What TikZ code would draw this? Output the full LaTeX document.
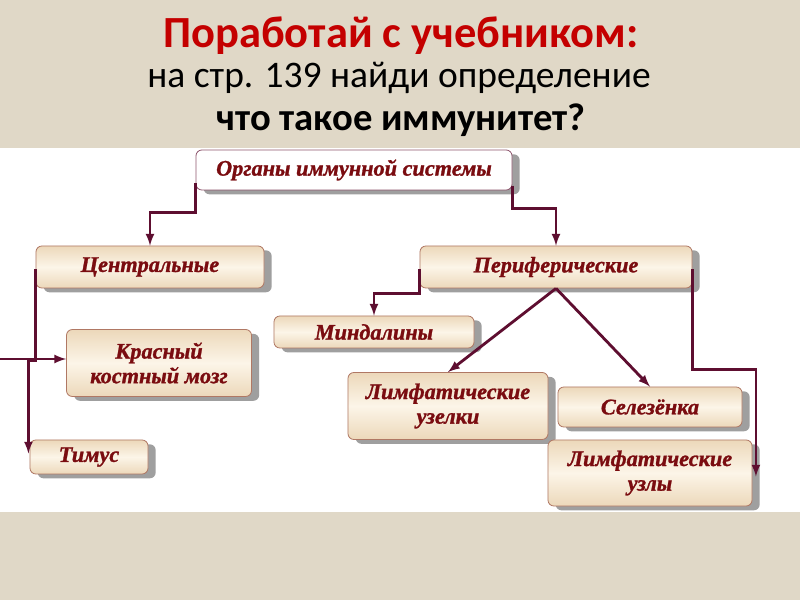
\documentclass[tikz,border=0pt]{standalone}
\usepackage{fontspec}
\setmainfont{Liberation Serif}
\newfontfamily\titlefont{Carlito}
\newfontfamily\boxfont{Liberation Serif Bold Italic}[FakeBold=1.2]
\usepackage{xcolor}
\usepackage{tikz}
\usetikzlibrary{calc, shadows}

\definecolor{paper}{RGB}{224,216,199}
\definecolor{linkcol}{RGB}{94,14,48}
\definecolor{textcol}{RGB}{122,12,16}
\definecolor{titlered}{RGB}{196,0,0}
\definecolor{boxedge}{RGB}{176,120,100}
\definecolor{boxlight}{RGB}{252,245,232}
\definecolor{boxdark}{RGB}{236,216,186}

\tikzset{
  organbox/.style={draw=boxedge, line width=0.7pt, rounded corners=5pt,
    top color=boxdark, bottom color=boxdark, middle color=boxlight,
    drop shadow={shadow xshift=2.3mm, shadow yshift=-1.3mm, fill=gray!75, opacity=1},
    text=textcol, align=center, font=\boxfont\fontsize{19}{21}\selectfont},
  toplink/.style={draw=linkcol, line width=2.4pt, -latex}
}

\begin{document}
\begin{tikzpicture}[x=0.03cm, y=-0.03cm]
        \useasboundingbox (0,0) rectangle (800,600);

        % Draw the background
        \fill[paper] (0,0) rectangle (800,600);
        \fill[white] (0,148) rectangle (800,512);

        % Draw the title
        \node[titlered] (title) at (401,36) {\titlefont\fontsize{38}{42}\selectfont\bfseries Поработай с учебником:};
        \node (task) at (399,78) {\titlefont\fontsize{32}{36}\selectfont на стр. 139 найди определение};
        \node (question) at (401,120) {\titlefont\fontsize{33}{38}\selectfont\bfseries что такое иммунитет?};

        % Draw the boxes
        \node[organbox, draw=linkcol!70, top color=white, bottom color=white, middle color=white, minimum width=94.8mm, minimum height=12mm] (organs) at (354,170) {Органы иммунной системы};
        \node[organbox, minimum width=68.4mm, minimum height=12.6mm] (central) at (150,267) {Центральные};
        \node[organbox, minimum width=81.6mm, minimum height=12.6mm] (periph) at (556,267) {Периферические};
        \node[organbox, minimum width=60mm, minimum height=9.6mm] (tonsils) at (374,332) {Миндалины};
        \node[organbox, minimum width=55.5mm, minimum height=20.1mm] (marrow) at (159,363) {Красный\\костный мозг};
        \node[organbox, minimum width=60mm, minimum height=20.1mm] (nodules) at (448,406) {Лимфатические\\узелки};
        \node[organbox, minimum width=55.2mm, minimum height=12mm] (spleen) at (650,407) {Селезёнка};
        \node[organbox, minimum width=35.4mm, minimum height=10.2mm] (thymus) at (89,457) {Тимус};
        \node[organbox, minimum width=61.2mm, minimum height=19.8mm] (lymphnodes) at (650,473) {Лимфатические\\узлы};

        % Draw the links
        \draw[toplink] ([yshift=6pt]organs.south west) -- ++(0,29) -| (central.north);
        \draw[toplink] ([yshift=4pt]organs.south east) -- ++(0,23) -| (periph.north);
        \draw[toplink] ([yshift=-2pt]central.west) -- ++(0,91) -| ([xshift=-1pt,yshift=3pt]thymus.west);
        \coordinate (leftend) at (0,359);
        \draw[toplink] (leftend) -- (leftend -| marrow.west);
        \draw[toplink] ([yshift=-2pt]periph.west) -- ++(0,24) -| (tonsils.north);
        \draw[toplink] (periph.south) -- (nodules.north);
        \draw[toplink] (periph.south) -- (spleen.north);
        \draw[toplink] ([yshift=-2pt]periph.east) -- ++(0,100) -| ([xshift=3pt,yshift=-3pt]lymphnodes.east);
    \end{tikzpicture}
\end{document}
